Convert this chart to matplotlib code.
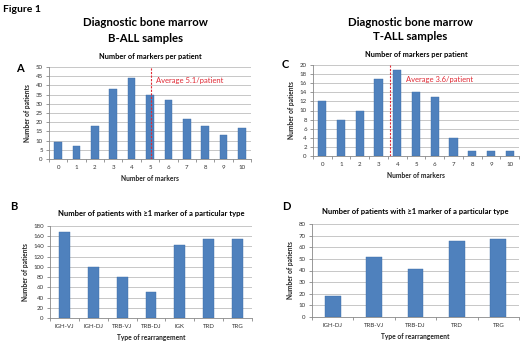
import matplotlib
matplotlib.use("Agg")
import matplotlib.pyplot as plt

plt.rcParams['font.family'] = ['Lato', 'DejaVu Sans']

# Data
markers = [str(i) for i in range(11)]
ball_counts = [9, 7, 18, 38, 44, 35, 32, 22, 18, 13, 17]
tall_counts = [12, 8, 10, 17, 19, 14, 13, 4, 1, 1, 1]
ball_avg = 5.1
tall_avg = 3.6
ball_types = ["IGH-VJ", "IGH-DJ", "TRB-VJ", "TRB-DJ", "IGK", "TRD", "TRG"]
ball_type_counts = [168, 100, 80, 50, 142, 154, 155]
tall_types = ["IGH-DJ", "TRB-VJ", "TRB-DJ", "TRD", "TRG"]
tall_type_counts = [18, 52, 41, 65, 67]

W, H = 520, 341
fig = plt.figure(figsize=(W/100, H/100), dpi=100)
fig.patch.set_facecolor('white')

BAR = '#4F81BD'
RED = '#E02A35'
GRID = '#BEBEBE'


def px_axes(left, right, top, bottom):
    return fig.add_axes([left/W, 1 - bottom/H, (right-left)/W, (bottom-top)/H])


def style(ax, ymax, ystep, cats, width, vals, xlabel, ylabel):
    x = list(range(len(cats)))
    ax.bar(x, vals, width=width, color=BAR, edgecolor='#3A6BA5', linewidth=0.3, zorder=3)
    ax.set_xlim(-0.5, len(cats) - 0.5)
    ax.set_ylim(0, ymax)
    ax.set_yticks(range(0, ymax + 1, ystep))
    ax.set_xticks(x)
    ax.set_xticklabels(cats)
    ax.set_xticks([i + 0.5 for i in range(-1, len(cats))], minor=True)
    ax.tick_params(axis='x', which='major', length=0, labelsize=4.4, pad=4, colors='#333333')
    ax.tick_params(axis='x', which='minor', length=2.5, width=0.6, color='#888888')
    ax.tick_params(axis='y', length=2.5, width=0.6, color='#888888', labelsize=4.4, pad=2, labelcolor='#333333')
    ax.grid(axis='y', color=GRID, linewidth=0.6, zorder=0)
    for s in ['top', 'right']:
        ax.spines[s].set_visible(False)
    for s in ['left', 'bottom']:
        ax.spines[s].set_color('#888888')
        ax.spines[s].set_linewidth(0.6)
    ax.set_xlabel(xlabel, fontsize=4.8, fontweight='bold', labelpad=4, color='#222222')
    ax.set_ylabel(ylabel, fontsize=4.8, fontweight='bold', labelpad=3, color='#222222')


# Panel A
axA = px_axes(49, 251, 67, 159)
style(axA, 50, 5, markers, 0.42, ball_counts, "Number of markers", "Number of patients")
axA.axvline(ball_avg - 0.05, color=RED, linestyle=(0, (2, 1.2)), linewidth=0.8, zorder=5)
axA.text(ball_avg + 0.2, 42.5, "Average 5.1/patient", color=RED, fontsize=5.5, va='center', ha='left')
axA.set_title("Number of markers per patient", fontsize=5.3, fontweight='bold', pad=6)

# Panel C
axC = px_axes(313, 519, 65, 156)
style(axC, 20, 2, markers, 0.44, tall_counts, "Number of markers", "Number of patients")
axC.axvline(tall_avg, color=RED, linestyle=(0, (2, 1.2)), linewidth=0.8, zorder=5)
axC.text(tall_avg + 0.87, 16.9, "Average 3.6/patient", color=RED, fontsize=5.5, va='center', ha='left')
axC.set_title("Number of markers per patient", fontsize=5.3, fontweight='bold', pad=6)

# Panel B
axB = px_axes(50, 252, 226, 318)
style(axB, 180, 20, ball_types, 0.38, ball_type_counts, "Type of rearrangement", "Number of patients")
axB.set_title("Number of patients with \u22651 marker of a particular type", fontsize=5.5, fontweight='bold', pad=7)

# Panel D
axD = px_axes(312, 519, 224, 317)
style(axD, 80, 10, tall_types, 0.38, tall_type_counts, "Type of rearrangement", "Number of patients")
axD.set_title("Number of patients with \u22651 marker of a particular type", fontsize=5.5, fontweight='bold', pad=7)

# Figure texts
fig.text(3/W, 1 - 9/H, "Figure 1", fontsize=7.5, fontweight='bold', va='center', ha='left')
fig.text(145/W, 1 - 23/H, "Diagnostic bone marrow", fontsize=8.2, fontweight='bold', ha='center', va='center')
fig.text(145/W, 1 - 38/H, "B-ALL samples", fontsize=8.2, fontweight='bold', ha='center', va='center')
fig.text(410/W, 1 - 23/H, "Diagnostic bone marrow", fontsize=8.2, fontweight='bold', ha='center', va='center')
fig.text(410/W, 1 - 37/H, "T-ALL samples", fontsize=8.2, fontweight='bold', ha='center', va='center')

for lab, x, y in [("A", 20, 68), ("C", 285, 65), ("B", 14, 207), ("D", 286, 207)]:
    fig.text(x/W, 1 - y/H, lab, fontsize=8, fontweight='bold', ha='center', va='center')

fig.savefig("out.png", dpi=100, facecolor='white')
